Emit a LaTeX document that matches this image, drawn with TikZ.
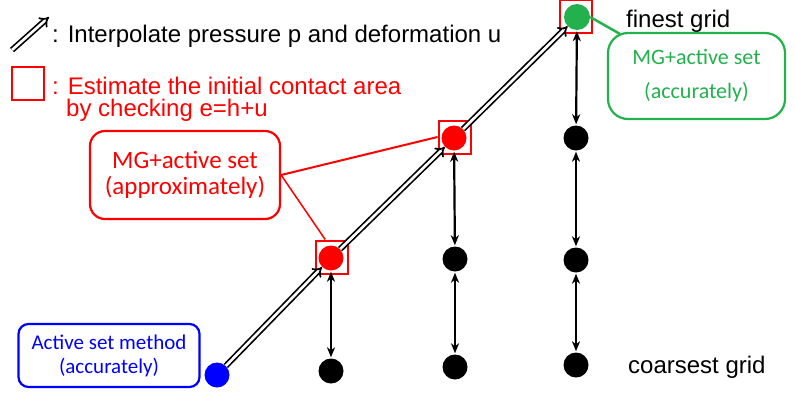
\documentclass[tikz,border=0pt]{standalone}
\usepackage{fontspec}
\setmainfont{Liberation Sans}
\newfontfamily\carlito{Carlito}
\usetikzlibrary{arrows.meta,calc}
\definecolor{pgreen}{RGB}{34,177,76}
\definecolor{pred}{RGB}{255,0,0}
\definecolor{pblue}{RGB}{0,0,255}
\tikzset{
  dot/.style={circle,fill=#1,draw=none,minimum size=25pt,inner sep=0pt},
  sq/.style={draw=pred,line width=2pt,minimum width=32pt,minimum height=33pt,inner sep=0pt},
  dbl/.style={draw=black,double=white,line width=1.7pt,double distance=2.6pt,-{Implies}},
  vert/.style={line width=2.2pt,{Stealth[length=10pt,width=8pt,inset=3pt]}-{Stealth[length=10pt,width=8pt,inset=3pt]},shorten <=1pt,shorten >=1pt},
  lbl/.style={anchor=base west,inner sep=0pt,font=\fontsize{24}{27}\selectfont},
  cbox/.style={draw=#1,text=#1,line width=2.2pt,align=center,inner sep=0pt},
}
\begin{document}
\begin{tikzpicture}[x=1pt,y=-1pt]
\useasboundingbox (0,0) rectangle (795,394);
% squares
\node[sq] (sq1) at (332,257) {};
\node[sq] (sq2) at (454.5,137) {};
\node[sq] (sq3) at (576,16.5) {};
% dots
\node[dot=pblue] (b) at (217,375) {};
\node[dot=pred] (r1) at (331,258) {};
\node[dot=pred] (r2) at (454,138) {};
\node[dot=pgreen,minimum size=26pt] (g) at (577,17) {};
\node[dot=black] (k1) at (331,371) {};
\node[dot=black] (k2a) at (455,259) {};
\node[dot=black] (k2b) at (455,367) {};
\node[dot=black] (k3a) at (576,138) {};
\node[dot=black] (k3b) at (576,260) {};
\node[dot=black] (k3c) at (576,365) {};
% interpolation arrows
\draw[dbl] (b) -- (r1);
\draw[dbl] (r1) -- (r2);
\draw[dbl] (r2) -- (g);
% vertical arrows
\draw[vert] (r1) -- (k1);
\draw[vert] (r2) -- (k2a);
\draw[vert] (k2a) -- (k2b);
\draw[vert] (g) -- (k3a);
\draw[vert] (k3a) -- (k3b);
\draw[vert] (k3b) -- (k3c);
% legend
\coordinate (lt) at (12,50);
\coordinate (lh) at (49,17);
\draw[dbl] (lt) -- (lh);
\node[lbl] (t1) at (52,42) {: Interpolate pressure p and deformation u};
\node[draw=pred,line width=2pt,minimum width=32pt,minimum height=33pt,inner sep=0pt] (lsq) at (28,83.5) {};
\node[lbl,text=pred] (t2) at (52,94) {: Estimate the initial contact area};
\node[lbl,text=pred] (t3) at (66,116) {by checking e=h+u};
\node[lbl] (t4) at (626,27) {finest grid};
\node[lbl] (t5) at (628,373) {coarsest grid};
% boxes
\node[cbox=pblue,rounded corners=10pt,minimum width=181pt,minimum height=63pt,font=\carlito\fontsize{21}{24}\selectfont] (bbox) at (109,355.5) {Active set method\\(accurately)};
\node[cbox=pred,rounded corners=15pt,minimum width=190pt,minimum height=88pt,font=\carlito\fontsize{25}{26}\selectfont] (rbox) at (185,175) {MG+active set\\(approximately)};
\node[cbox=pgreen,rounded corners=20pt,minimum width=177pt,minimum height=86pt,font=\carlito\fontsize{22}{34}\selectfont] (gbox) at (696.5,76) {MG+active set\\(accurately)};
% callout lines
\draw[pred,line width=2pt] (rbox.east) -- (sq2.west);
\draw[pred,line width=1.5pt] (rbox.east) -- ($(sq1.north)!0.4!(sq1.north west)$);
\draw[pgreen,line width=2.5pt] (g.east) -- ([xshift=13pt,yshift=-2pt]gbox.north west);
\end{tikzpicture}
\end{document}
